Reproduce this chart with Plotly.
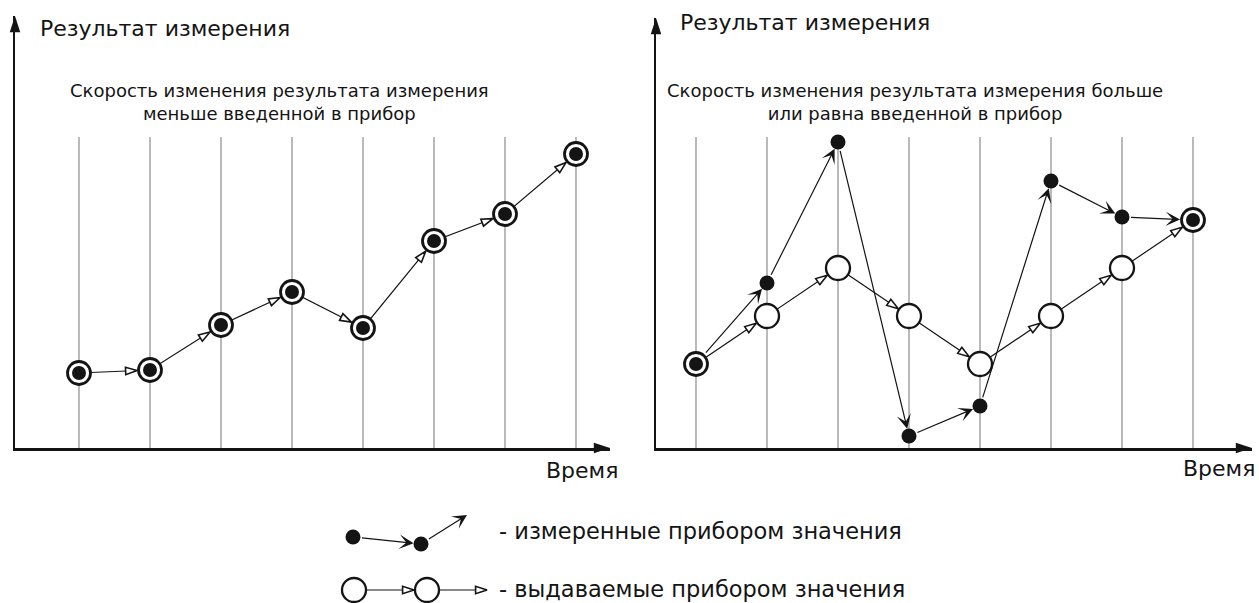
import plotly.graph_objects as go

# ---------------- data ----------------
time_steps = [1, 2, 3, 4, 5, 6, 7, 8]
# left panel: rate of change smaller than the limit -> output equals measurement
left_values = [2.5, 2.6, 4.1, 5.2, 4.0, 6.9, 7.8, 9.8]
# right panel: rate of change >= limit
right_measured = [2.8, 5.5, 10.2, 0.4, 1.4, 8.9, 7.7, 7.6]
right_output = [2.8, 4.4, 6.0, 4.4, 2.8, 4.4, 6.0, 7.6]

y_label = "Результат измерения"
x_label = "Время"
left_note = ["Скорость изменения результата измерения", "меньше введенной в прибор"]
right_note = ["Скорость изменения результата измерения больше", "или равна введенной в прибор"]
legend_labels = ["- измеренные прибором значения", "- выдаваемые прибором значения"]

# ---------------- layout constants (pixels) ----------------
W, H = 1259, 603
STEP_PX = 71.0
UNIT_PX = 30.0
BASE_Y = 448
GRID_TOP_Y = 137
FONT = "DejaVu Sans"
INK = "#141414"
GRID = "#9c9c9c"
R_RING = 13
R_DOT = 7.5
RING_SIZE = 23
DOT_SIZE = 14
OPEN_SIZE = 24
HEAD_SIZE = 12

panels = [
    dict(x0=15, first=79, tip_x=610, tip_y=16, xa="x", ya="y", xk="xaxis", yk="yaxis"),
    dict(x0=656, first=696, tip_x=1252, tip_y=18, xa="x2", ya="y2", xk="xaxis2", yk="yaxis2"),
]

fig = go.Figure()
layout_axes = {}
annotations = []

base_axis = dict(showline=True, linecolor=INK, linewidth=2.5, showgrid=False,
                 zeroline=False, showticklabels=False, ticks="", fixedrange=True)

grid_top = (BASE_Y - GRID_TOP_Y) / UNIT_PX

for p in panels:
    xr = [time_steps[0] - (p["first"] - p["x0"]) / STEP_PX,
          time_steps[0] + (p["tip_x"] - p["first"]) / STEP_PX]
    yr = [0, (BASE_Y - p["tip_y"]) / UNIT_PX]
    layout_axes[p["xk"]] = dict(base_axis, range=xr, domain=[p["x0"] / W, p["tip_x"] / W],
                                anchor=p["ya"])
    layout_axes[p["yk"]] = dict(base_axis, range=yr, domain=[(H - BASE_Y) / H, (H - p["tip_y"]) / H],
                                anchor=p["xa"])
    # vertical time grid
    gx, gy = [], []
    for t in time_steps:
        gx += [t, t, None]
        gy += [0, grid_top, None]
    fig.add_trace(go.Scatter(x=gx, y=gy, mode="lines", line=dict(color=GRID, width=1.4),
                             xaxis=p["xa"], yaxis=p["ya"], hoverinfo="skip"))
    # axis arrow heads
    fig.add_trace(go.Scatter(x=[xr[1], xr[0]], y=[0, yr[1]], mode="markers",
                             marker=dict(symbol="arrow", size=17, color=INK, angle=[90, 0],
                                         opacity=1, line=dict(width=0)),
                             cliponaxis=False, xaxis=p["xa"], yaxis=p["ya"], hoverinfo="skip"))


def hollow_chain(xs, ys, xa, ya, standoffs, sizes):
    fig.add_trace(go.Scatter(x=xs, y=ys, mode="markers",
                             marker=dict(symbol="arrow", size=sizes, color="white", opacity=1,
                                         angleref="previous", standoff=standoffs,
                                         line=dict(color=INK, width=1.6)),
                             cliponaxis=False, xaxis=xa, yaxis=ya, hoverinfo="skip"))


def filled_arrow(x0, y0, x1, y1, xa, ya, s0, s1):
    annotations.append(dict(x=x1, y=y1, ax=x0, ay=y0, xref=xa, yref=ya, axref=xa, ayref=ya,
                            text="", showarrow=True, arrowhead=3, arrowsize=2.0, arrowwidth=1.2,
                            arrowcolor=INK, standoff=s1, startstandoff=s0))


# ---------- left panel ----------
fig.add_trace(go.Scatter(x=time_steps, y=left_values, mode="lines",
                         line=dict(color=INK, width=1.2), xaxis="x", yaxis="y", hoverinfo="skip"))
fig.add_trace(go.Scatter(x=time_steps, y=left_values, mode="markers",
                         marker=dict(size=RING_SIZE, color="white", opacity=1,
                                     line=dict(color=INK, width=2.8)),
                         xaxis="x", yaxis="y", hoverinfo="skip"))
fig.add_trace(go.Scatter(x=time_steps, y=left_values, mode="markers",
                         marker=dict(size=DOT_SIZE, color=INK, opacity=1, line=dict(width=0)),
                         xaxis="x", yaxis="y", hoverinfo="skip"))
hollow_chain(time_steps, left_values, "x", "y", R_RING,
             [0] + [HEAD_SIZE] * (len(time_steps) - 1))

# ---------- right panel ----------
same = [abs(m - o) < 1e-9 for m, o in zip(right_measured, right_output)]
fig.add_trace(go.Scatter(x=time_steps, y=right_output, mode="lines",
                         line=dict(color=INK, width=1.2), xaxis="x2", yaxis="y2", hoverinfo="skip"))
ring_x = [t for t, s in zip(time_steps, same) if s]
ring_y = [v for v, s in zip(right_output, same) if s]
open_x = [t for t, s in zip(time_steps, same) if not s]
open_y = [v for v, s in zip(right_output, same) if not s]
dot_x = [t for t, s in zip(time_steps, same) if not s]
dot_y = [v for v, s in zip(right_measured, same) if not s]
fig.add_trace(go.Scatter(x=open_x, y=open_y, mode="markers",
                         marker=dict(size=OPEN_SIZE, color="white", opacity=1,
                                     line=dict(color=INK, width=2.3)),
                         xaxis="x2", yaxis="y2", hoverinfo="skip"))
fig.add_trace(go.Scatter(x=ring_x, y=ring_y, mode="markers",
                         marker=dict(size=RING_SIZE, color="white", opacity=1,
                                     line=dict(color=INK, width=2.8)),
                         xaxis="x2", yaxis="y2", hoverinfo="skip"))
fig.add_trace(go.Scatter(x=ring_x, y=ring_y, mode="markers",
                         marker=dict(size=DOT_SIZE, color=INK, opacity=1, line=dict(width=0)),
                         xaxis="x2", yaxis="y2", hoverinfo="skip"))
fig.add_trace(go.Scatter(x=dot_x, y=dot_y, mode="markers",
                         marker=dict(size=15, color=INK, opacity=1, line=dict(width=0)),
                         xaxis="x2", yaxis="y2", hoverinfo="skip"))
hollow_chain(time_steps, right_output, "x2", "y2", R_RING,
             [0] + [HEAD_SIZE] * (len(time_steps) - 1))
for i in range(len(time_steps) - 1):
    s0 = R_RING if same[i] else R_DOT
    s1 = R_RING if same[i + 1] else R_DOT
    filled_arrow(time_steps[i], right_measured[i], time_steps[i + 1], right_measured[i + 1],
                 "x2", "y2", s0, s1)

# ---------- legend key (pixel-space overlay axis) ----------
LG = dict(x0=320, x1=520, y0=500, y1=603)
layout_axes["xaxis3"] = dict(visible=False, range=[LG["x0"], LG["x1"]],
                             domain=[LG["x0"] / W, LG["x1"] / W], anchor="y3", fixedrange=True)
layout_axes["yaxis3"] = dict(visible=False, range=[LG["y1"], LG["y0"]],
                             domain=[(H - LG["y1"]) / H, (H - LG["y0"]) / H], anchor="x3",
                             fixedrange=True)
key1_x, key1_y = [353, 421, 467], [537, 544, 515]
key2_x, key2_y = [354, 427, 487], [590, 590, 590]
fig.add_trace(go.Scatter(x=key1_x[:2], y=key1_y[:2], mode="markers",
                         marker=dict(size=15, color=INK, opacity=1, line=dict(width=0)),
                         xaxis="x3", yaxis="y3", hoverinfo="skip", cliponaxis=False))
filled_arrow(key1_x[0], key1_y[0], key1_x[1], key1_y[1], "x3", "y3", R_DOT, R_DOT)
filled_arrow(key1_x[1], key1_y[1], key1_x[2], key1_y[2], "x3", "y3", R_DOT, 0)
fig.add_trace(go.Scatter(x=key2_x, y=key2_y, mode="lines", line=dict(color=INK, width=1.2),
                         xaxis="x3", yaxis="y3", hoverinfo="skip", cliponaxis=False))
fig.add_trace(go.Scatter(x=key2_x[:2], y=key2_y[:2], mode="markers",
                         marker=dict(size=OPEN_SIZE, color="white", opacity=1,
                                     line=dict(color=INK, width=2.3)),
                         xaxis="x3", yaxis="y3", hoverinfo="skip", cliponaxis=False))
hollow_chain(key2_x, key2_y, "x3", "y3", [0, R_RING, 0], [0, HEAD_SIZE, HEAD_SIZE])

# ---------- texts ----------
def txt(text, x, y, size, xanchor="left"):
    annotations.append(dict(text=text, x=x / W, y=1 - y / H, xref="paper", yref="paper",
                            xanchor=xanchor, yanchor="middle", showarrow=False,
                            font=dict(family=FONT, size=size, color=INK)))

txt(y_label, 38, 28, 22)
txt(y_label, 678, 22, 22)
txt("<br>".join(left_note), 279, 102, 18, "center")
txt("<br>".join(right_note), 915, 102, 18, "center")
txt(x_label, 620, 470, 22, "right")
txt(x_label, 1257, 468, 22, "right")
txt(legend_labels[0], 497, 531, 22.5)
txt(legend_labels[1], 497, 589, 22.5)

fig.update_layout(width=W, height=H, autosize=False, margin=dict(l=0, r=0, t=0, b=0),
                  paper_bgcolor="white", plot_bgcolor="rgba(0,0,0,0)", showlegend=False,
                  annotations=annotations, **layout_axes)

fig.write_html("out.html", config={"displayModeBar": False, "staticPlot": True},
               post_script="document.body.style.margin='0';document.body.style.overflow='hidden';")
